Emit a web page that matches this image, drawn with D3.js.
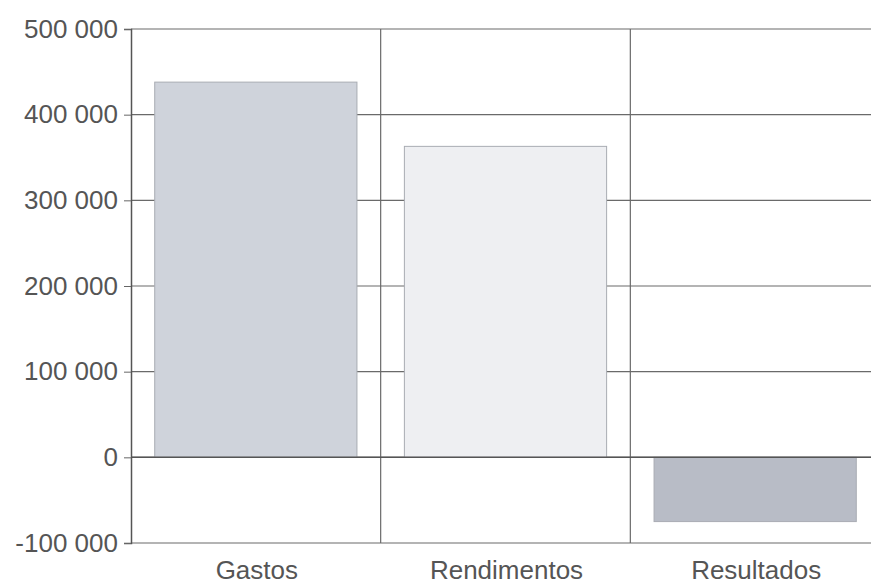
<!DOCTYPE html>
<html>
<head>
<meta charset="utf-8">
<script src="https://cdn.jsdelivr.net/npm/d3@7/dist/d3.min.js"></script>
<style>
  html, body { margin: 0; padding: 0; background: #fff; }
  svg { display: block; }
</style>
</head>
<body>
<svg id="chart" width="871" height="585"></svg>
<script>
// Category labels and values
const categories = ["Gastos", "Rendimentos", "Resultados"];
const values = [438000, 363000, -75000];
const yTicks = [-100000, 0, 100000, 200000, 300000, 400000, 500000];
const barColors = ["#cfd3db", "#eeeff2", "#b8bcc6"];

const svg = d3.select("#chart");
const plotLeft = 131, plotRight = 880, plotTop = 29, plotBottom = 543;

const x = d3.scaleBand().domain(categories).range([plotLeft, plotRight]).paddingInner(0.19).paddingOuter(0.095);
const xOuter = d3.scaleBand().domain(categories).range([plotLeft, plotRight]);
const y = d3.scaleLinear().domain([-100000, 500000]).range([plotBottom, plotTop]);

// thousands separated by a space, plain hyphen for negatives
const fmt = v => (v < 0 ? "-" : "") + d3.format(",")(Math.abs(v)).replace(/,/g, " ");

// horizontal gridlines
svg.append("g").selectAll("line").data(yTicks).join("line")
  .attr("x1", plotLeft).attr("x2", plotRight)
  .attr("y1", d => y(d)).attr("y2", d => y(d))
  .attr("stroke", "#6a6a6a").attr("stroke-width", 1.2);

// category separators
svg.append("g").selectAll("line").data(categories.slice(1)).join("line")
  .attr("x1", d => xOuter(d)).attr("x2", d => xOuter(d))
  .attr("y1", plotTop).attr("y2", plotBottom)
  .attr("stroke", "#6a6a6a").attr("stroke-width", 1.2);

// bars
svg.append("g").selectAll("rect").data(values).join("rect")
  .attr("x", (d, i) => x(categories[i]))
  .attr("width", x.bandwidth())
  .attr("y", d => y(Math.max(0, d)))
  .attr("height", d => Math.abs(y(d) - y(0)))
  .attr("fill", (d, i) => barColors[i])
  .attr("stroke", "#a9acb3").attr("stroke-width", 1);

// zero line drawn over the bars
svg.append("line")
  .attr("x1", plotLeft).attr("x2", plotRight)
  .attr("y1", y(0)).attr("y2", y(0))
  .attr("stroke", "#555").attr("stroke-width", 1.5);

// y axis
const yAxis = svg.append("g").attr("transform", `translate(${plotLeft},0)`)
  .call(d3.axisLeft(y).tickValues(yTicks).tickFormat(fmt).tickSize(7).tickPadding(6));
yAxis.select(".domain").attr("stroke", "#555").attr("stroke-width", 1.5);
yAxis.selectAll(".tick line").attr("stroke", "#666");
yAxis.selectAll("text")
  .attr("font-family", "'Liberation Sans', Arial, sans-serif")
  .attr("font-size", 26).attr("fill", "#555");

// category labels
svg.append("g").selectAll("text").data(categories).join("text")
  .attr("x", d => xOuter(d) + xOuter.bandwidth() / 2 + 1)
  .attr("y", 579)
  .attr("text-anchor", "middle")
  .attr("font-family", "'Liberation Sans', Arial, sans-serif")
  .attr("font-size", 26).attr("fill", "#555")
  .text(d => d);
</script>
</body>
</html>
